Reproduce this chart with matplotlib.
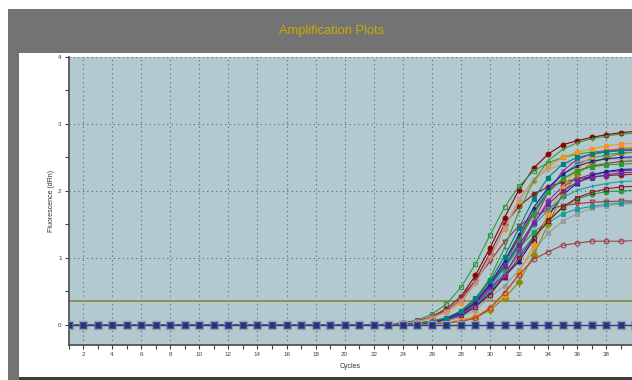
import numpy as np
import matplotlib.pyplot as plt
from matplotlib.patches import Rectangle

plt.rcParams['font.family'] = ['Liberation Sans', 'DejaVu Sans']

cycles = np.arange(1, 41)
lead = [0.0] * 22          # cycles 1-22, flat baseline for every well

# dRn for cycles 23..40
# (color, marker, filled, values)
wells = [
    ('#8b0000', 'o', True,  [0.01, 0.02, 0.05, 0.12, 0.24, 0.42, 0.74, 1.15, 1.60, 2.02, 2.34, 2.55, 2.69, 2.75, 2.80, 2.84, 2.87, 2.89]),
    ('#2f9a3a', 's', False, [0.01, 0.03, 0.07, 0.16, 0.31, 0.56, 0.91, 1.34, 1.76, 2.07, 2.30, 2.42, 2.50, 2.55, 2.58, 2.60, 2.61, 2.62]),
    ('#8b1a1a', 'o', True,  [0.01, 0.02, 0.05, 0.11, 0.21, 0.37, 0.67, 1.07, 1.50, 1.77, 1.95, 2.06, 2.13, 2.18, 2.21, 2.23, 2.24, 2.25]),
    ('#f7941d', 'o', True,  [0.01, 0.02, 0.04, 0.10, 0.19, 0.33, 0.62, 1.00, 1.43, 1.85, 2.15, 2.36, 2.50, 2.58, 2.63, 2.67, 2.70, 2.71]),
    ('#a0303a', 'v', False, [0.01, 0.03, 0.06, 0.12, 0.24, 0.42, 0.66, 0.95, 1.24, 1.48, 1.63, 1.72, 1.78, 1.81, 1.83, 1.84, 1.85, 1.85]),
    ('#b49aa4', 'v', False, [0.01, 0.02, 0.05, 0.11, 0.20, 0.36, 0.62, 1.00, 1.45, 1.88, 2.17, 2.32, 2.40, 2.44, 2.46, 2.47, 2.48, 2.48]),
    ('#3a9a3a', '+', True,  [0.00, 0.01, 0.03, 0.06, 0.11, 0.20, 0.38, 0.70, 1.15, 1.70, 2.15, 2.45, 2.62, 2.72, 2.78, 2.82, 2.85, 2.86]),
    ('#1a9a9a', 's', True,  [0.00, 0.01, 0.02, 0.04, 0.09, 0.20, 0.37, 0.60, 0.90, 1.30, 1.70, 2.02, 2.25, 2.40, 2.49, 2.54, 2.57, 2.58]),
    ('#2a9a3a', 'o', True,  [0.00, 0.01, 0.02, 0.04, 0.09, 0.20, 0.38, 0.67, 0.85, 1.15, 1.38, 1.55, 1.75, 1.88, 1.95, 1.99, 2.00, 2.01]),
    ('#8a2a9a', 'o', True,  [0.00, 0.01, 0.02, 0.04, 0.08, 0.17, 0.30, 0.55, 0.75, 1.11, 1.50, 1.85, 2.07, 2.18, 2.25, 2.28, 2.30, 2.31]),
    ('#1a1a8a', '^', True,  [0.00, 0.00, 0.01, 0.03, 0.06, 0.13, 0.27, 0.48, 0.72, 0.95, 1.27, 1.62, 1.94, 2.12, 2.23, 2.29, 2.32, 2.33]),
    ('#9a9a9a', 's', True,  [0.00, 0.00, 0.01, 0.03, 0.06, 0.12, 0.22, 0.42, 0.58, 0.82, 1.10, 1.37, 1.55, 1.66, 1.74, 1.78, 1.80, 1.81]),
    ('#1a9a9a', 's', True,  [0.00, 0.01, 0.02, 0.04, 0.08, 0.16, 0.30, 0.50, 0.78, 1.05, 1.32, 1.52, 1.66, 1.73, 1.77, 1.80, 1.82, 1.83]),
    ('#8b8b00', 'D', True,  [0.00, 0.00, 0.01, 0.02, 0.04, 0.06, 0.11, 0.22, 0.40, 0.64, 1.04, 1.50, 1.95, 2.25, 2.42, 2.50, 2.56, 2.58]),
    ('#f7941d', 'D', True,  [0.00, 0.00, 0.01, 0.02, 0.04, 0.07, 0.13, 0.25, 0.44, 0.78, 1.19, 1.65, 2.05, 2.36, 2.52, 2.60, 2.64, 2.66]),
    ('#8b1a2a', 's', False, [0.00, 0.01, 0.02, 0.04, 0.08, 0.15, 0.27, 0.45, 0.72, 1.00, 1.30, 1.55, 1.76, 1.90, 1.98, 2.03, 2.06, 2.07]),
    ('#1aa0a0', '+', True,  [0.00, 0.01, 0.02, 0.04, 0.09, 0.17, 0.30, 0.52, 0.85, 1.18, 1.48, 1.72, 1.90, 2.01, 2.07, 2.11, 2.14, 2.15]),
    ('#9a2a9a', 'x', True,  [0.00, 0.01, 0.02, 0.04, 0.08, 0.16, 0.30, 0.55, 0.73, 1.11, 1.55, 1.98, 2.30, 2.47, 2.55, 2.60, 2.62, 2.63]),
    ('#8b3a1a', '.', True,  [0.00, 0.01, 0.02, 0.05, 0.10, 0.19, 0.35, 0.62, 0.95, 1.30, 1.68, 1.98, 2.18, 2.30, 2.37, 2.41, 2.44, 2.45]),
    ('#2a9a3a', 's', True,  [0.00, 0.01, 0.02, 0.05, 0.10, 0.20, 0.38, 0.67, 0.85, 1.25, 1.65, 1.98, 2.18, 2.30, 2.36, 2.39, 2.40, 2.41]),
    ('#6a2a9a', 's', True,  [0.00, 0.01, 0.02, 0.04, 0.09, 0.18, 0.33, 0.58, 0.88, 1.20, 1.52, 1.80, 2.00, 2.13, 2.20, 2.24, 2.27, 2.28]),
    ('#2020a0', '.', True,  [0.00, 0.01, 0.02, 0.04, 0.09, 0.18, 0.33, 0.60, 0.95, 1.35, 1.75, 2.05, 2.25, 2.37, 2.44, 2.48, 2.50, 2.51]),
    ('#008080', 's', True,  [0.00, 0.01, 0.02, 0.05, 0.10, 0.21, 0.40, 0.66, 1.02, 1.45, 1.88, 2.20, 2.40, 2.50, 2.55, 2.58, 2.60, 2.61]),
    ('#a04040', 'o', False, [0.00, 0.00, 0.01, 0.02, 0.03, 0.05, 0.10, 0.25, 0.48, 0.75, 0.98, 1.09, 1.19, 1.22, 1.25, 1.25, 1.25, 1.26]),
]

# no-template wells stay flat
ntc = [0.0] * 40
threshold = 0.36

fig = plt.figure(figsize=(6.32, 3.80), dpi=100)
fig.patch.set_facecolor('white')
W, H = 632.0, 380.0

# dark frame, white plot area, title
for (px, py, pw, ph, fc) in [(8, 9, 700, 380, '#737373'),
                             (19, 53, 700, 324, 'white'),
                             (19, 377, 700, 10, '#3c3c3c')]:
    fig.patches.append(Rectangle((px / W, 1 - (py + ph) / H), pw / W, ph / H,
                                 transform=fig.transFigure, facecolor=fc,
                                 edgecolor='none', zorder=-10))
fig.text(332 / W, 1 - 31 / H, 'Amplification Plots', color='#c8aa00', fontsize=9.3,
         ha='center', va='center')

x0, x1 = 68.5, 635.3
y0, y1 = 57, 345
ax = fig.add_axes([x0 / W, 1 - y1 / H, (x1 - x0) / W, (y1 - y0) / H])
ax.set_zorder(1)
ax.set_facecolor('#b2cacf')

for color, mk, filled, vals in wells:
    y = lead + vals
    ax.plot(cycles, y, color=color, lw=0.8, marker=mk, ms=3.4,
            mfc=color if filled else 'none', mec=color, mew=0.8, zorder=3)

ax.axhline(threshold, color='#8f8f50', lw=1.4, zorder=2)
ax.axhline(0, color='#2e8b3a', lw=1.0, zorder=4)

# no-template controls
ax.plot(cycles, ntc, ls='none', marker='s', ms=5.2, mfc='#a0a0a0', mec='#a0a0a0', zorder=5)
ax.plot(cycles, ntc, color='#2a3a9a', lw=0.8, marker='s', ms=3.8,
        mfc='#1f3d5f', mec='#4848c0', mew=0.8, zorder=6)

ax.set_xlim(1, 40)
ax.set_ylim(-0.3, 4)
ax.set_xticks(np.arange(2, 40, 2))
ax.set_xticks(np.arange(1, 41), minor=True)
ax.set_yticks([0, 1, 2, 3, 4])
ax.set_yticks(np.arange(0, 4.01, 0.5), minor=True)
ax.tick_params(which='both', direction='out', length=3, width=0.8, colors='#404040',
               labelsize=4.5, pad=2)
ax.grid(True, which='major', ls=(0, (1, 3)), color='#5a6468', lw=0.8)
ax.grid(False, which='minor')
ax.set_axisbelow(True)

for s in ['top', 'right']:
    ax.spines[s].set_visible(False)
for s in ['left', 'bottom']:
    ax.spines[s].set_color('#555555')
    ax.spines[s].set_linewidth(1.3)

ax.set_xlabel('Cycles', fontsize=5, color='#303030')
ax.set_ylabel('Fluorescence (dRn)', fontsize=5, color='#303030')
ax.xaxis.set_label_coords((350 - x0) / (x1 - x0), -(363 - y1) / (y1 - y0))
ax.yaxis.set_label_coords(-(x0 - 55) / (x1 - x0), 0.5)

fig.savefig('out.png', dpi=100)
